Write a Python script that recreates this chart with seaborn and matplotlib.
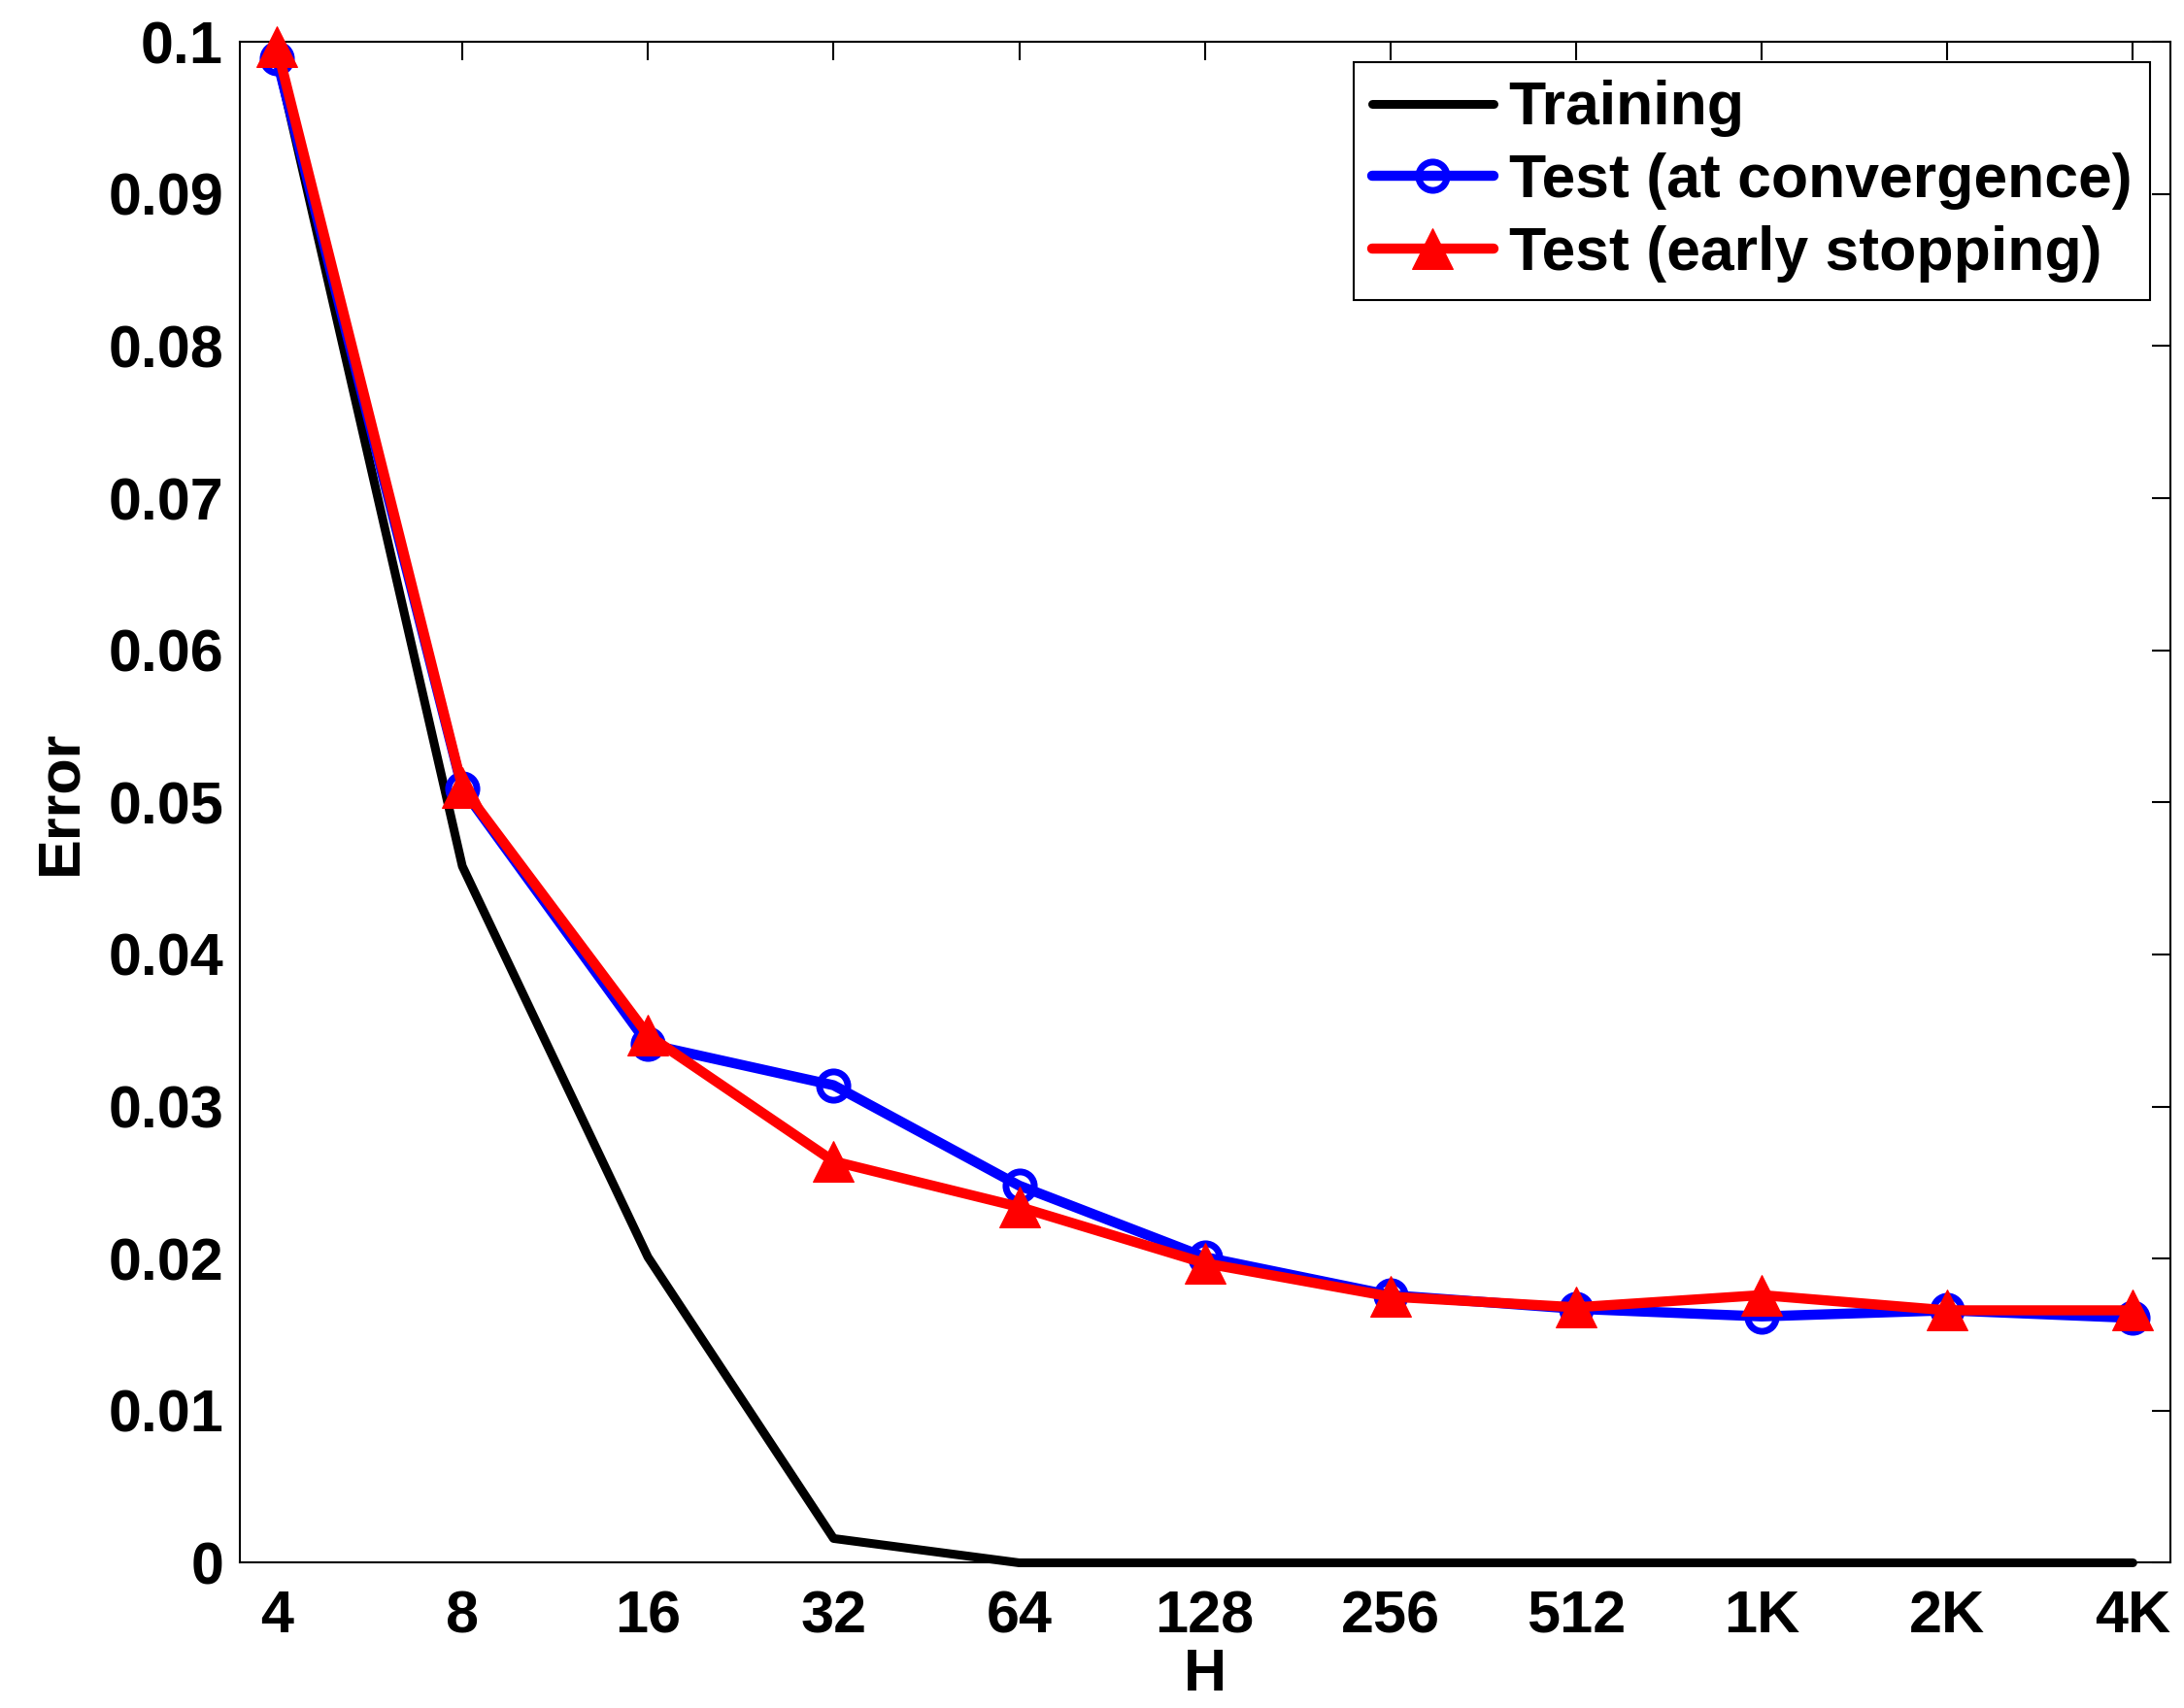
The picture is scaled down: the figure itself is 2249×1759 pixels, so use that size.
import matplotlib
matplotlib.use("Agg")
import matplotlib.pyplot as plt
import seaborn as sns
import pandas as pd

H_labels = ["4", "8", "16", "32", "64", "128", "256", "512", "1K", "2K", "4K"]
training = [0.0990, 0.0458, 0.0201, 0.0016, 0.0, 0.0, 0.0, 0.0, 0.0, 0.0, 0.0]
test_conv = [0.0989, 0.0509, 0.0341, 0.0314, 0.0248, 0.0201, 0.0176, 0.0167, 0.0162, 0.0166, 0.0161]
test_early = [0.0997, 0.0510, 0.0347, 0.0264, 0.0234, 0.0197, 0.0175, 0.0168, 0.0176, 0.0166, 0.0166]
y_ticks = [0, 0.01, 0.02, 0.03, 0.04, 0.05, 0.06, 0.07, 0.08, 0.09, 0.1]
y_tick_labels = ["0", "0.01", "0.02", "0.03", "0.04", "0.05", "0.06", "0.07", "0.08", "0.09", "0.1"]

sns.set_theme(style="white")
plt.rcParams["font.family"] = ["Liberation Sans", "DejaVu Sans"]
plt.rcParams["font.weight"] = "bold"
plt.rcParams["text.color"] = "black"
plt.rcParams["axes.labelcolor"] = "black"
plt.rcParams["xtick.color"] = "black"
plt.rcParams["ytick.color"] = "black"

idx = list(range(len(H_labels)))
df = pd.DataFrame({"idx": idx, "training": training, "conv": test_conv, "early": test_early})

fig = plt.figure(figsize=(22.49, 17.59), dpi=100)
ax = fig.add_axes([0.1097, 0.085, 0.8839, 0.8905])

sns.lineplot(data=df, x="idx", y="training", ax=ax, color="black", linewidth=6.5,
             label="Training", estimator=None, sort=False, clip_on=False, zorder=3)
sns.lineplot(data=df, x="idx", y="conv", ax=ax, color="#0000ff", linewidth=7.5,
             marker="o", markersize=21, markerfacecolor="none", markeredgecolor="#0000ff",
             markeredgewidth=5, label="Test (at convergence)", estimator=None, sort=False,
             clip_on=False, zorder=4)
sns.lineplot(data=df, x="idx", y="early", ax=ax, color="#ff0000", linewidth=7.5,
             marker="^", markersize=30, markerfacecolor="#ff0000", markeredgecolor="#ff0000",
             label="Test (early stopping)", estimator=None, sort=False, clip_on=False, zorder=5)

ax.set_xlim(-0.2, 10.2)
ax.set_ylim(0, 0.1)
ax.set_xticks(idx)
ax.set_xticklabels(H_labels)
ax.set_yticks(y_ticks)
ax.set_yticklabels(y_tick_labels)
ax.tick_params(axis="both", which="both", direction="in", length=14, width=1.5,
               top=True, right=True, labelsize=44, colors="black")
ax.tick_params(axis="x", pad=20)
ax.tick_params(axis="y", pad=12)
for lab in ax.get_xticklabels() + ax.get_yticklabels():
    lab.set_fontweight("bold")
for s in ax.spines.values():
    s.set_color("black")
    s.set_linewidth(1.5)

ax.set_xlabel("H", fontsize=44, fontweight="bold", labelpad=2, color="black")
ax.set_ylabel("Error", fontsize=44, fontweight="bold", labelpad=14, color="black")

leg = ax.legend(loc="upper right", fontsize=45, frameon=True, fancybox=False,
                edgecolor="black", framealpha=1, borderaxespad=0.33, borderpad=0.3,
                handlelength=2.0, handletextpad=0.25, labelspacing=0.25)
leg.get_frame().set_linewidth(1.5)
for t in leg.get_texts():
    t.set_fontweight("bold")
    t.set_color("black")

fig.savefig("out.png", dpi=100)
